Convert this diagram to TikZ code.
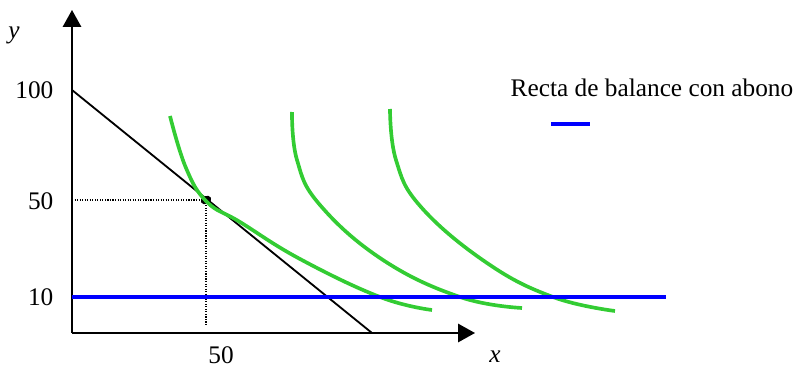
\documentclass[tikz,border=0pt]{standalone}
\usepackage{fontspec}
\setmainfont{Liberation Serif}
\usetikzlibrary{arrows.meta}
\definecolor{curvegreen}{RGB}{51,204,51}
\definecolor{balanceblue}{RGB}{0,0,255}

\begin{document}
\begin{tikzpicture}[
    x=0.025cm, y=-0.025cm,
    >={Triangle[length=12pt, width=13pt]},
    font=\fontsize{18}{22}\selectfont,
    axisline/.style={line width=1.3pt},
    indiff/.style={curvegreen, line width=2.6pt, smooth, tension=0.7},
    guide/.style={densely dotted, line width=0.8pt},
    lbl/.style={inner sep=1pt}
]
\useasboundingbox (0,0) rectangle (798,368);

% Axes
\coordinate (O) at (72,333);
\coordinate (ytop) at (72,10);
\coordinate (xend) at (475,333);
\draw[axisline, ->] (O) -- (ytop);
\draw[axisline, ->] (O) -- (xend);

% Axis labels
\node[lbl] (ylab) at (14,35) {\itshape y};
\node[lbl] (xlab) at (495,357) {\itshape x};
\node[lbl, anchor=east] (t100) at (55,90) {100};
\node[lbl, anchor=east] (t50) at (55,201) {50};
\node[lbl, anchor=east] (t10) at (55,297) {10};
\node[lbl] (x50) at (221,355) {50};

% Budget line
\coordinate (b100) at (72,90);
\coordinate (bx) at (372,333);
\draw[line width=1.3pt] (b100) -- (bx);

% Optimum and guides
\coordinate (opt) at (206,200);
\coordinate (optx) at (206,326);
\draw[guide] (72,200) -- (opt);
\draw[guide] (opt) -- (optx);
\fill[rotate around={25:(opt)}] (opt) ellipse (5.5 and 4);

% Indifference curves
\draw[indiff] plot coordinates {(170,116) (186,168) (207,202) (240,222) (300,259) (380,297) (432,310)};
\draw[indiff] plot coordinates {(292,112) (297,160) (320,205) (383,260) (460,297) (522,308)};
\draw[indiff] plot coordinates {(390,109) (396,160) (421,207) (487,263) (553,297) (615,311)};

% Balance line with subsidy
\coordinate (s10) at (72,297);
\coordinate (s10end) at (666,297);
\draw[balanceblue, line width=2.2pt] (s10) -- (s10end);

% Legend
\node[lbl] (legtext) at (652,88) {Recta de balance con abono};
\coordinate (lega) at (551,124);
\coordinate (legb) at (590,124);
\draw[balanceblue, line width=2.2pt] (lega) -- (legb);

\end{tikzpicture}
\end{document}
